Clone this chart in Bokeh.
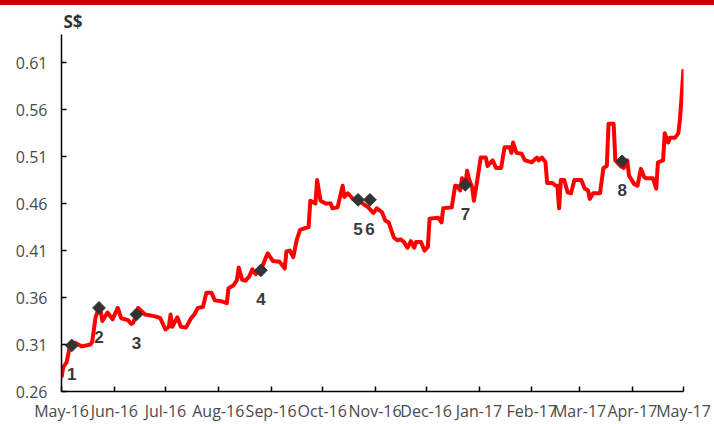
import math
from datetime import datetime
from bokeh.plotting import figure
from bokeh.models import (ColumnDataSource, FixedTicker, DatetimeTickFormatter,
                          PrintfTickFormatter, Range1d, Div)
from bokeh.layouts import column
from bokeh.core.properties import value
from bokeh.embed import file_html
from bokeh.resources import INLINE

# ---- data ----
price_dates = [
    "2016-05-01", "2016-05-02", "2016-05-04", "2016-05-06", "2016-05-09", "2016-05-13",
    "2016-05-18", "2016-05-19", "2016-05-21", "2016-05-23", "2016-05-24", "2016-05-25",
    "2016-05-28", "2016-05-31", "2016-06-03", "2016-06-05", "2016-06-09", "2016-06-11",
    "2016-06-12", "2016-06-14", "2016-06-15", "2016-06-19", "2016-06-25", "2016-06-28",
    "2016-07-01", "2016-07-03", "2016-07-04", "2016-07-05", "2016-07-08", "2016-07-10",
    "2016-07-13", "2016-07-16", "2016-07-18", "2016-07-20", "2016-07-23", "2016-07-25",
    "2016-07-28", "2016-07-30", "2016-08-03", "2016-08-06", "2016-08-07", "2016-08-10",
    "2016-08-12", "2016-08-13", "2016-08-15", "2016-08-17", "2016-08-19", "2016-08-21",
    "2016-08-23", "2016-08-26", "2016-08-29", "2016-08-30", "2016-09-02", "2016-09-06",
    "2016-09-09", "2016-09-10", "2016-09-12", "2016-09-14", "2016-09-16", "2016-09-18",
    "2016-09-21", "2016-09-23", "2016-09-24", "2016-09-27", "2016-09-28", "2016-09-30",
    "2016-10-03", "2016-10-06", "2016-10-07", "2016-10-10", "2016-10-13", "2016-10-14",
    "2016-10-16", "2016-10-19", "2016-10-22", "2016-10-24", "2016-10-28", "2016-10-31",
    "2016-11-02", "2016-11-05", "2016-11-07", "2016-11-09", "2016-11-12", "2016-11-14",
    "2016-11-16", "2016-11-18", "2016-11-20", "2016-11-22", "2016-11-24", "2016-11-25",
    "2016-11-28", "2016-11-30", "2016-12-02", "2016-12-03", "2016-12-08", "2016-12-10",
    "2016-12-11", "2016-12-16", "2016-12-18", "2016-12-19", "2016-12-21", "2016-12-22",
    "2016-12-24", "2016-12-25", "2016-12-26", "2016-12-28", "2016-12-29", "2016-12-31",
    "2017-01-02", "2017-01-05", "2017-01-06", "2017-01-09", "2017-01-11", "2017-01-14",
    "2017-01-16", "2017-01-19", "2017-01-20", "2017-01-21", "2017-01-23", "2017-01-26",
    "2017-01-28", "2017-02-01", "2017-02-04", "2017-02-05", "2017-02-07", "2017-02-09",
    "2017-02-10", "2017-02-13", "2017-02-15", "2017-02-16", "2017-02-17", "2017-02-18",
    "2017-02-20", "2017-02-22", "2017-02-24", "2017-02-26", "2017-03-02", "2017-03-04",
    "2017-03-06", "2017-03-07", "2017-03-09", "2017-03-13", "2017-03-15", "2017-03-17",
    "2017-03-18", "2017-03-21", "2017-03-22", "2017-03-25", "2017-03-27", "2017-03-29",
    "2017-03-30", "2017-04-02", "2017-04-04", "2017-04-06", "2017-04-08", "2017-04-09",
    "2017-04-13", "2017-04-15", "2017-04-16", "2017-04-19", "2017-04-20", "2017-04-22",
    "2017-04-23", "2017-04-26", "2017-04-28", "2017-04-29", "2017-05-01",
]
price_values = [
    0.275, 0.286, 0.291, 0.309, 0.312, 0.308,
    0.310, 0.313, 0.339, 0.349, 0.345, 0.335,
    0.344, 0.337, 0.349, 0.338, 0.336, 0.332,
    0.333, 0.342, 0.349, 0.342, 0.340, 0.338,
    0.326, 0.329, 0.342, 0.329, 0.339, 0.329,
    0.328, 0.338, 0.342, 0.349, 0.350, 0.365,
    0.365, 0.357, 0.356, 0.354, 0.370, 0.373,
    0.379, 0.392, 0.379, 0.378, 0.382, 0.390,
    0.385, 0.389, 0.403, 0.407, 0.399, 0.398,
    0.391, 0.409, 0.410, 0.403, 0.421, 0.432,
    0.434, 0.435, 0.463, 0.460, 0.485, 0.463,
    0.460, 0.460, 0.455, 0.456, 0.479, 0.467,
    0.471, 0.465, 0.462, 0.461, 0.456, 0.450,
    0.455, 0.451, 0.442, 0.440, 0.424, 0.421,
    0.422, 0.419, 0.413, 0.420, 0.413, 0.419,
    0.419, 0.410, 0.414, 0.444, 0.445, 0.440,
    0.455, 0.456, 0.479, 0.479, 0.474, 0.487,
    0.480, 0.495, 0.487, 0.477, 0.463, 0.485,
    0.509, 0.509, 0.500, 0.506, 0.498, 0.498,
    0.520, 0.520, 0.514, 0.525, 0.514, 0.513,
    0.506, 0.504, 0.509, 0.506, 0.509, 0.504,
    0.482, 0.482, 0.479, 0.479, 0.455, 0.485,
    0.485, 0.472, 0.471, 0.485, 0.485, 0.476,
    0.474, 0.465, 0.471, 0.471, 0.498, 0.500,
    0.545, 0.545, 0.506, 0.500, 0.498, 0.506,
    0.490, 0.481, 0.479, 0.497, 0.488, 0.487,
    0.487, 0.476, 0.504, 0.506, 0.535, 0.525,
    0.530, 0.530, 0.535, 0.551, 0.603,
]

event_dates = ["2016-05-07", "2016-05-23", "2016-06-14", "2016-08-26",
               "2016-10-22", "2016-10-29", "2016-12-24", "2017-03-26"]
event_values = [0.309, 0.349, 0.342, 0.389, 0.464, 0.464, 0.480, 0.505]
event_labels = ["1", "2", "3", "4", "5", "6", "7", "8"]

month_ticks = ["2016-05-01", "2016-06-01", "2016-07-01", "2016-08-01", "2016-09-01",
               "2016-10-01", "2016-11-01", "2016-12-01", "2017-01-01", "2017-02-01",
               "2017-03-01", "2017-04-01", "2017-05-01"]
y_ticks = [0.26, 0.31, 0.36, 0.41, 0.46, 0.51, 0.56, 0.61]
y_unit = "S$"

# ---- build ----
def ms(s):
    d = datetime.strptime(s, "%Y-%m-%d")
    return (d - datetime(1970, 1, 1)).total_seconds() * 1000.0

line_src = ColumnDataSource(dict(x=[ms(d) for d in price_dates], y=price_values))
ev_src = ColumnDataSource(dict(x=[ms(d) for d in event_dates], y=event_values,
                               t=event_labels))

y_top = 0.64
p = figure(width=714, height=419, output_backend="svg", toolbar_location=None,
           x_axis_type="datetime",
           x_range=Range1d(ms(month_ticks[0]), ms(month_ticks[-1])),
           y_range=Range1d(y_ticks[0], y_top),
           min_border_left=61, min_border_right=31, min_border_top=29,
           min_border_bottom=30, title=y_unit)
p.outline_line_color = None
p.grid.visible = False
p.background_fill_color = "white"
p.border_fill_color = "white"

t = p.title
t.align = "left"
t.offset = 2
t.standoff = 3
t.text_font = "Open Sans"
t.text_font_style = "bold"
t.text_font_size = "17px"
t.text_color = "#333333"

p.line("x", "y", source=line_src, line_color="#ff0000", line_width=4,
       line_join="round")
p.scatter("x", "y", source=ev_src, marker="square", size=9, angle=math.pi / 4,
          fill_color="#333333", line_color="#333333")
p.text("x", "y", text="t", source=ev_src, y_offset=29, text_align="center",
       text_baseline="middle", text_font=value("Liberation Sans"),
       text_font_style="bold", text_font_size="17px", text_color="#3a3a3a")

xa = p.xaxis[0]
xa.ticker = FixedTicker(ticks=[ms(d) for d in month_ticks])
fmt = "%b-%y"
xa.formatter = DatetimeTickFormatter(milliseconds=fmt, seconds=fmt, minsec=fmt,
                                     minutes=fmt, hourmin=fmt, hours=fmt, days=fmt,
                                     months=fmt, years=fmt)
ya = p.yaxis[0]
ya.ticker = FixedTicker(ticks=y_ticks)
ya.formatter = PrintfTickFormatter(format="%.2f")

for ax in (xa, ya):
    ax.axis_line_color = "black"
    ax.axis_line_width = 1.5
    ax.major_tick_line_color = "black"
    ax.major_tick_line_width = 1.5
    ax.major_tick_in = 5
    ax.major_tick_out = 0
    ax.minor_tick_line_color = None
    ax.major_label_text_font = "Open Sans"
    ax.major_label_text_font_size = "16px"
    ax.major_label_text_color = "#4a4a4a"
xa.major_label_standoff = 8
ya.major_label_standoff = 14

bar = Div(width=714, height=5, styles={"background-color": "#cc0000"}, margin=0)
layout = column(bar, p, spacing=0)

open("out.html", "w").write(file_html(layout, INLINE))
